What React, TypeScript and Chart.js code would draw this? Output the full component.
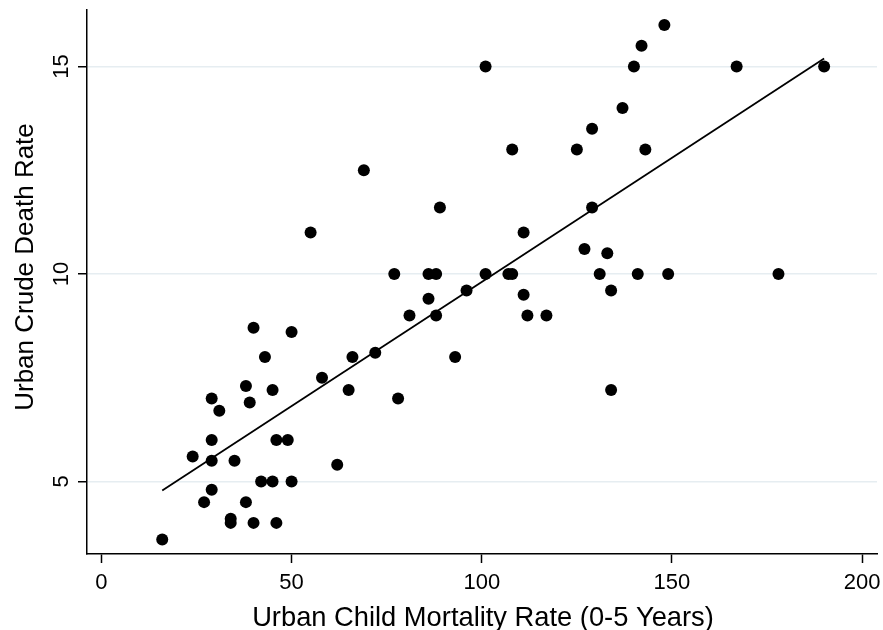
import React, { useEffect, useRef } from 'react';
import { Chart, registerables } from 'chart.js';

Chart.register(...registerables);

// Urban child mortality rate (0-5 years) per observation
const mortality = [
  16, 24, 27, 29, 29, 29, 29, 31, 34, 34, 35, 38, 38, 39, 40, 40, 42, 43, 45, 45,
  46, 46, 49, 50, 50, 55, 58, 62, 65, 66, 69, 72, 77, 78, 81, 86, 86, 88, 88, 89,
  93, 96, 101, 101, 107, 108, 108, 111, 111, 112, 117, 125, 127, 129, 129, 131, 133, 134, 134, 137,
  140, 141, 142, 143, 148, 149, 167, 178, 190,
];
// Urban crude death rate per observation
const deathRate = [
  3.6, 5.6, 4.5, 7.0, 6.0, 5.5, 4.8, 6.7, 4.1, 4.0, 5.5, 7.3, 4.5, 6.9, 8.7, 4.0, 5.0, 8.0, 7.2, 5.0,
  6.0, 4.0, 6.0, 8.6, 5.0, 11.0, 7.5, 5.4, 7.2, 8.0, 12.5, 8.1, 10.0, 7.0, 9.0, 10.0, 9.4, 10.0, 9.0, 11.6,
  8.0, 9.6, 15.0, 10.0, 10.0, 13.0, 10.0, 11.0, 9.5, 9.0, 9.0, 13.0, 10.6, 13.5, 11.6, 10.0, 10.5, 9.6, 7.2, 14.0,
  15.0, 10.0, 15.5, 13.0, 16.0, 10.0, 15.0, 10.0, 15.0,
];
// Linear fit line end points
const fitX = [16, 190];
const fitY = [4.78, 15.19];

const xTicks = [0, 50, 100, 150, 200];
const yTicks = [5, 10, 15];
const xTitle = 'Urban Child Mortality Rate (0-5 Years)';
const yTitle = 'Urban Crude Death Rate';

const FONT = '"Liberation Sans", Arial, Helvetica, sans-serif';

export default function App() {
  const ref = useRef<HTMLCanvasElement>(null);

  useEffect(() => {
    if (!ref.current) return;

    const textPlugin = {
      id: 'stataText',
      afterDraw(chart: any) {
        const { ctx, chartArea, scales } = chart;
        ctx.save();
        ctx.fillStyle = '#000';
        ctx.textAlign = 'center';
        ctx.textBaseline = 'alphabetic';
        // rotated y tick labels
        ctx.font = `22px ${FONT}`;
        for (const v of yTicks) {
          const py = scales.y.getPixelForValue(v);
          ctx.save();
          ctx.translate(chartArea.left - 19, py);
          ctx.rotate(-Math.PI / 2);
          ctx.fillText(String(v), 0, 0);
          ctx.restore();
        }
        // y title
        ctx.font = `26px ${FONT}`;
        ctx.save();
        ctx.translate(33, 267);
        ctx.rotate(-Math.PI / 2);
        ctx.fillText(yTitle, 0, 0);
        ctx.restore();
        // x title
        ctx.font = `27.3px ${FONT}`;
        ctx.fillText(xTitle, 483, 626);
        ctx.restore();
      },
    };

    const chart = new Chart(ref.current, {
      data: {
        datasets: [
          {
            type: 'line',
            data: fitX.map((x, i) => ({ x, y: fitY[i] })),
            borderColor: '#000',
            borderWidth: 1.8,
            pointRadius: 0,
            fill: false,
            tension: 0,
          },
          {
            type: 'scatter',
            data: mortality.map((x, i) => ({ x, y: deathRate[i] })),
            backgroundColor: '#000',
            borderColor: '#000',
            borderWidth: 0,
            pointRadius: 6,
            pointHoverRadius: 6,
          },
        ],
      },
      options: {
        animation: false,
        responsive: false,
        devicePixelRatio: 1,
        layout: { padding: { top: 10, right: 5, left: 0, bottom: 0 } },
        plugins: {
          legend: { display: false },
          tooltip: { enabled: false },
          title: { display: false },
        },
        scales: {
          x: {
            type: 'linear',
            min: -3.78,
            max: 203.9,
            afterBuildTicks: (s: any) => {
              s.ticks = xTicks.map((v) => ({ value: v }));
            },
            afterFit: (s: any) => {
              s.height = 76;
              s.paddingLeft = 0;
              s.paddingRight = 0;
            },
            grid: {
              drawOnChartArea: false,
              drawTicks: true,
              tickLength: 9,
              tickColor: '#000',
              tickWidth: 1.5,
            },
            border: { display: true, color: '#000', width: 1.5 },
            ticks: {
              color: '#000',
              font: { size: 22, family: FONT },
              padding: 7,
              maxRotation: 0,
              autoSkip: false,
            },
          },
          y: {
            type: 'linear',
            min: 3.25,
            max: 16.36,
            afterBuildTicks: (s: any) => {
              s.ticks = yTicks.map((v) => ({ value: v }));
            },
            afterFit: (s: any) => {
              s.width = 87;
              s.paddingTop = 0;
              s.paddingBottom = 0;
            },
            grid: {
              color: '#e6edf1',
              lineWidth: 1.5,
              drawTicks: true,
              tickLength: 9,
              tickColor: '#000',
              tickWidth: 1.5,
            },
            border: { display: true, color: '#000', width: 1.5 },
            ticks: { display: false },
          },
        },
      },
      plugins: [textPlugin],
    } as any);

    return () => chart.destroy();
  }, []);

  return (
    <div style={{ position: 'absolute', left: 0, top: 0, width: 883, height: 630, background: '#fff' }}>
      <canvas ref={ref} width={883} height={630} />
    </div>
  );
}
